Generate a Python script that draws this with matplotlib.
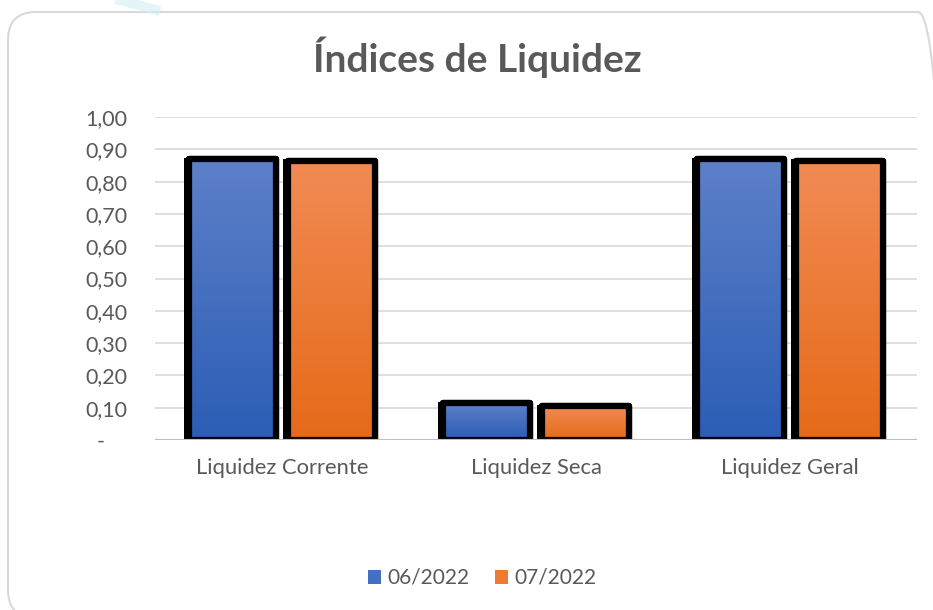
import numpy as np
import matplotlib
matplotlib.use("Agg")
import matplotlib.pyplot as plt
import matplotlib.patheffects as pe
from matplotlib.patches import FancyBboxPatch
from matplotlib.colors import LinearSegmentedColormap
from matplotlib.transforms import IdentityTransform

categories = ["Liquidez Corrente", "Liquidez Seca", "Liquidez Geral"]
series_names = ["06/2022", "07/2022"]
values_jun = [0.87, 0.115, 0.87]
values_jul = [0.865, 0.105, 0.865]
yticks = [0.0, 0.1, 0.2, 0.3, 0.4, 0.5, 0.6, 0.7, 0.8, 0.9, 1.0]
ytick_labels = ["-    ", "0,10", "0,20", "0,30", "0,40", "0,50", "0,60", "0,70", "0,80", "0,90", "1,00"]
title = "Índices de Liquidez"

plt.rcParams['font.family'] = ['Lato', 'DejaVu Sans']
gray = "#595959"

W, H = 933, 610
fig = plt.figure(figsize=(W / 100, H / 100), dpi=100)
fig.patch.set_facecolor("white")

# outer rounded border (pixel coordinates, origin bottom-left)
border = FancyBboxPatch((8, -8), 938, H - 12 + 8, boxstyle="round,pad=0,rounding_size=28",
                        transform=IdentityTransform(), facecolor="none", edgecolor="#D9D9D9", lw=1.5)
fig.patches.append(border)
# faint decorative streak
fig.add_artist(plt.Line2D([112, 160], [H + 2, H - 11], transform=IdentityTransform(),
                          color="#D3EEF4", lw=7, alpha=0.6, solid_capstyle="butt"))

ax = fig.add_axes([155 / W, 1 - 440 / H, (917 - 155) / W, (440 - 117) / H])
ax.set_xlim(-0.5, 2.5)
ax.set_ylim(0, 1.0)
for s in ax.spines.values():
    s.set_visible(False)
ax.set_yticks(yticks)
ax.set_yticklabels(ytick_labels)
ax.tick_params(axis="y", length=0, pad=20, labelsize=15.5, labelcolor=gray)
ax.tick_params(axis="x", length=0, pad=13, labelsize=15.8, labelcolor=gray)
ax.set_xticks(range(len(categories)))
ax.set_xticklabels(categories)
ax.grid(axis="y", color="#D9D9D9", lw=1.2, zorder=0)
ax.set_axisbelow(True)
ax.axhline(0, color="#BFBFBF", lw=1.5, zorder=10)

x = np.arange(len(categories))
bw = 0.34
off = 0.195
lw = 4.5

cmap_b = LinearSegmentedColormap.from_list("b", ["#2C5DB5", "#5D80C9"])
cmap_o = LinearSegmentedColormap.from_list("o", ["#E66A18", "#F18B54"])
grad = np.linspace(0, 1, 256).reshape(-1, 1)

shadow = [pe.SimplePatchShadow(offset=(-3.5, 0.8), shadow_rgbFace="black", alpha=1.0), pe.Normal()]

for vals, dx, cmap, lab, mid in [(values_jun, -off, cmap_b, series_names[0], "#4470C4"),
                                 (values_jul, off, cmap_o, series_names[1], "#EE7A33")]:
    bars = ax.bar(x + dx, vals, width=bw, color="black", edgecolor="black", lw=lw,
                  joinstyle="round", zorder=2)
    for b in bars:
        b.set_path_effects(shadow)
        x0, y0 = b.get_x(), b.get_y()
        im = ax.imshow(grad, cmap=cmap, origin="lower", aspect="auto",
                       extent=[x0, x0 + b.get_width(), y0, y0 + b.get_height()], zorder=3)
        im.set_clip_path(b)
    ax.bar(x + dx, vals, width=bw, facecolor="none", edgecolor="black", lw=lw,
           joinstyle="round", zorder=4)
    ax.bar([0], [0], color=mid, label=lab)

ax.set_xlim(-0.5, 2.5)
ax.set_ylim(0, 1.0)

fig.text(477 / W, 1 - 72 / H, title, ha="center", va="baseline", fontsize=28,
         fontweight="bold", color=gray)

leg = fig.legend(loc="center", bbox_to_anchor=(482 / W, 1 - 578 / H), ncol=2, frameon=False,
                 handlelength=0.65, handleheight=0.65, handletextpad=0.3, columnspacing=1.2,
                 fontsize=15)
for t in leg.get_texts():
    t.set_color(gray)

fig.savefig("out.png", dpi=100)
